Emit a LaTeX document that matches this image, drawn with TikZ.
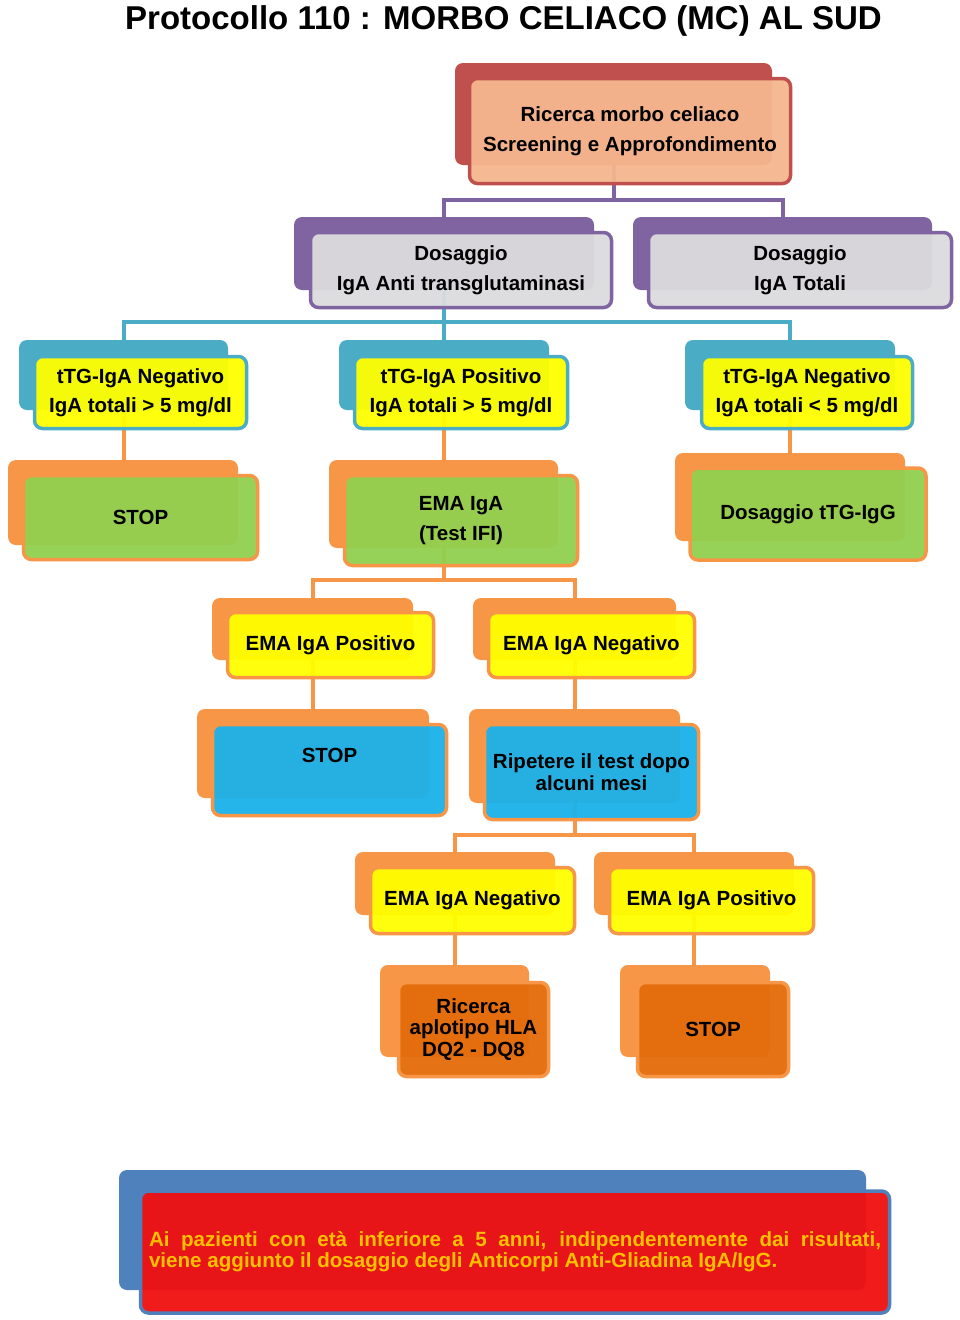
\documentclass[tikz,border=0pt]{standalone}
\usepackage{fontspec}
\setmainfont{Liberation Sans}
\definecolor{redB}{HTML}{C0504D}
\definecolor{peach}{HTML}{F5B78E}
\definecolor{purpleB}{HTML}{8064A2}
\definecolor{greyF}{HTML}{DCDCDE}
\definecolor{tealB}{HTML}{4BACC6}
\definecolor{yelF}{HTML}{FFFF00}
\definecolor{orangeB}{HTML}{F79646}
\definecolor{greenF}{HTML}{92D050}
\definecolor{blueF}{HTML}{1AB2EA}
\definecolor{dorange}{HTML}{E46C0A}
\definecolor{blueB}{HTML}{4F81BD}
\definecolor{redF}{HTML}{F01010}
\definecolor{goldT}{HTML}{FFC000}
\tikzset{
  bk/.style={fill=#1, draw=none, rounded corners=8pt, inner sep=0pt, outer sep=0pt},
  fr/.style={draw=#1, line width=3.5pt, rounded corners=8pt, inner sep=0pt, outer sep=0pt,
    align=center, fill opacity=0.95, text opacity=1, draw opacity=1,
    font=\bfseries\fontsize{20.5}{30}\selectfont},
  conn/.style={draw=#1, line width=4pt},
}
\begin{document}
\begin{tikzpicture}[x=1pt,y=-1pt]
\fill[white] (0,0) rectangle (960,1320);
\useasboundingbox (0,0) rectangle (960,1320);

\node[font=\bfseries\fontsize{33}{40}\selectfont, anchor=base] (title) at (503.5,29) {Protocollo 110 : MORBO CELIACO (MC) AL SUD};

% back boxes
\node[bk=redB, minimum width=317pt, minimum height=102pt] (rB) at (613.5,114) {};
\node[bk=purpleB, minimum width=300pt, minimum height=73pt] (d1B) at (444,253.5) {};
\node[bk=purpleB, minimum width=299pt, minimum height=73pt] (d2B) at (782.5,253.5) {};
\node[bk=tealB, minimum width=209pt, minimum height=70pt] (t1B) at (123.5,375) {};
\node[bk=tealB, minimum width=210pt, minimum height=70pt] (t2B) at (444,375) {};
\node[bk=tealB, minimum width=210pt, minimum height=70pt] (t3B) at (790,375) {};
\node[bk=orangeB, minimum width=230pt, minimum height=85pt] (g1B) at (123,502.5) {};
\node[bk=orangeB, minimum width=229pt, minimum height=88pt] (g2B) at (443.5,504) {};
\node[bk=orangeB, minimum width=230pt, minimum height=88pt] (g3B) at (790,497) {};
\node[bk=orangeB, minimum width=201pt, minimum height=62pt] (e1B) at (312.5,629) {};
\node[bk=orangeB, minimum width=203pt, minimum height=62pt] (e2B) at (574.5,629) {};
\node[bk=orangeB, minimum width=232pt, minimum height=89pt] (s1B) at (313,753.5) {};
\node[bk=orangeB, minimum width=211pt, minimum height=94pt] (s2B) at (574.5,756) {};
\node[bk=orangeB, minimum width=200pt, minimum height=63pt] (n2B) at (455,883.5) {};
\node[bk=orangeB, minimum width=200pt, minimum height=63pt] (p2B) at (694,883.5) {};
\node[bk=orangeB, minimum width=149pt, minimum height=92pt] (hB) at (454.5,1011) {};
\node[bk=orangeB, minimum width=150pt, minimum height=92pt] (soB) at (695,1011) {};
\node[bk=blueB, minimum width=747pt, minimum height=120pt] (botB) at (492.5,1230) {};

% connectors
\coordinate (bus1) at (0,200);
\coordinate (bus2) at (0,322);
\coordinate (bus3) at (0,580);
\coordinate (bus4) at (0,835);
\draw[conn=purpleB] (rB.south) -- (rB.south |- bus1) -| (d1B.north);
\draw[conn=purpleB] (rB.south |- bus1) -| (d2B.north);
\draw[conn=tealB] (d1B.south) -- (d1B.south |- bus2) -| (t1B.north);
\draw[conn=tealB] (d1B.south |- bus2) -| (t3B.north);
\draw[conn=tealB] (d1B.south |- bus2) -- (t2B.north);
\draw[conn=orangeB] (t1B.south) -- (t1B.south |- g1B.north);
\draw[conn=orangeB] (t2B.south) -- (t2B.south |- g2B.north);
\draw[conn=orangeB] (t3B.south) -- (t3B.south |- g3B.north);
\draw[conn=orangeB] (g2B.south) -- (g2B.south |- bus3) -| (e1B.north);
\draw[conn=orangeB] (g2B.south |- bus3) -| (e2B.north);
\draw[conn=orangeB] (e1B.south) -- (e1B.south |- s1B.north);
\draw[conn=orangeB] (e2B.south) -- (e2B.south |- s2B.north);
\draw[conn=orangeB] (s2B.south) -- (s2B.south |- bus4) -| (n2B.north);
\draw[conn=orangeB] (s2B.south |- bus4) -| (p2B.north);
\draw[conn=orangeB] (n2B.south) -- (n2B.south |- hB.north);
\draw[conn=orangeB] (p2B.south) -- (p2B.south |- soB.north);

% front boxes
\node[fr=redB, fill=peach, minimum width=321pt, minimum height=105pt] (r) at (630,131) {Ricerca morbo celiaco\\Screening e Approfondimento};
\node[fr=purpleB, fill=greyF, minimum width=301pt, minimum height=75pt] (d1) at (461,270) {Dosaggio\\IgA Anti transglutaminasi};
\node[fr=purpleB, fill=greyF, minimum width=303pt, minimum height=75pt] (d2) at (800,270) {Dosaggio\\IgA Totali};
\node[fr=tealB, fill=yelF, minimum width=212pt, minimum height=72pt, font=\bfseries\fontsize{20.5}{29}\selectfont] (t1) at (140.5,392.5) {tTG-IgA Negativo\\IgA totali > 5 mg/dl};
\node[fr=tealB, fill=yelF, minimum width=213pt, minimum height=72pt, font=\bfseries\fontsize{20.5}{29}\selectfont] (t2) at (461,392.5) {tTG-IgA Positivo\\IgA totali > 5 mg/dl};
\node[fr=tealB, fill=yelF, minimum width=211pt, minimum height=72pt, font=\bfseries\fontsize{20.5}{29}\selectfont] (t3) at (807,392.5) {tTG-IgA Negativo\\IgA totali < 5 mg/dl};
\node[fr=orangeB, fill=greenF, minimum width=234pt, minimum height=84pt] (g1) at (140.5,517.5) {STOP};
\node[fr=orangeB, fill=greenF, minimum width=233pt, minimum height=90pt] (g2) at (461,520.5) {EMA IgA\\(Test IFI)};
\node[fr=orangeB, fill=greenF, minimum width=236pt, minimum height=92pt] (g3) at (808,514) {Dosaggio tTG-IgG};
\node[fr=orangeB, fill=yelF, minimum width=206pt, minimum height=65pt] (e1) at (330.5,645) {EMA IgA Positivo};
\node[fr=orangeB, fill=yelF, minimum width=206pt, minimum height=65pt] (e2) at (591.5,645) {EMA IgA Negativo};
\node[fr=orangeB, fill=blueF, minimum width=234pt, minimum height=91pt] (s1) at (329.5,770) {STOP\\\mbox{}};
\node[fr=orangeB, fill=blueF, minimum width=214pt, minimum height=95pt, font=\bfseries\fontsize{20.5}{22}\selectfont] (s2) at (591.5,772) {Ripetere il test dopo\\alcuni mesi};
\node[fr=orangeB, fill=yelF, minimum width=204pt, minimum height=66pt] (n2) at (472.5,900.5) {EMA IgA Negativo};
\node[fr=orangeB, fill=yelF, minimum width=204pt, minimum height=66pt] (p2) at (711.5,900.5) {EMA IgA Positivo};
\node[fr=orangeB, fill=dorange, minimum width=150pt, minimum height=94pt, font=\bfseries\fontsize{20.5}{21.5}\selectfont] (h) at (473.5,1029.5) {Ricerca\\aplotipo HLA\\DQ2 - DQ8};
\node[fr=orangeB, fill=dorange, minimum width=151pt, minimum height=94pt] (so) at (713,1029.5) {STOP};
\node[fr=blueB, fill=redF, minimum width=749pt, minimum height=122pt, text=goldT, font=\bfseries\fontsize{20.6}{21}\selectfont] (bot) at (515,1252) {\makebox[732pt][s]{Ai pazienti con età inferiore a 5 anni, indipendentemente dai risultati,}\\\makebox[732pt][l]{viene aggiunto il dosaggio degli Anticorpi Anti-Gliadina IgA/IgG.}};
\end{tikzpicture}
\end{document}
